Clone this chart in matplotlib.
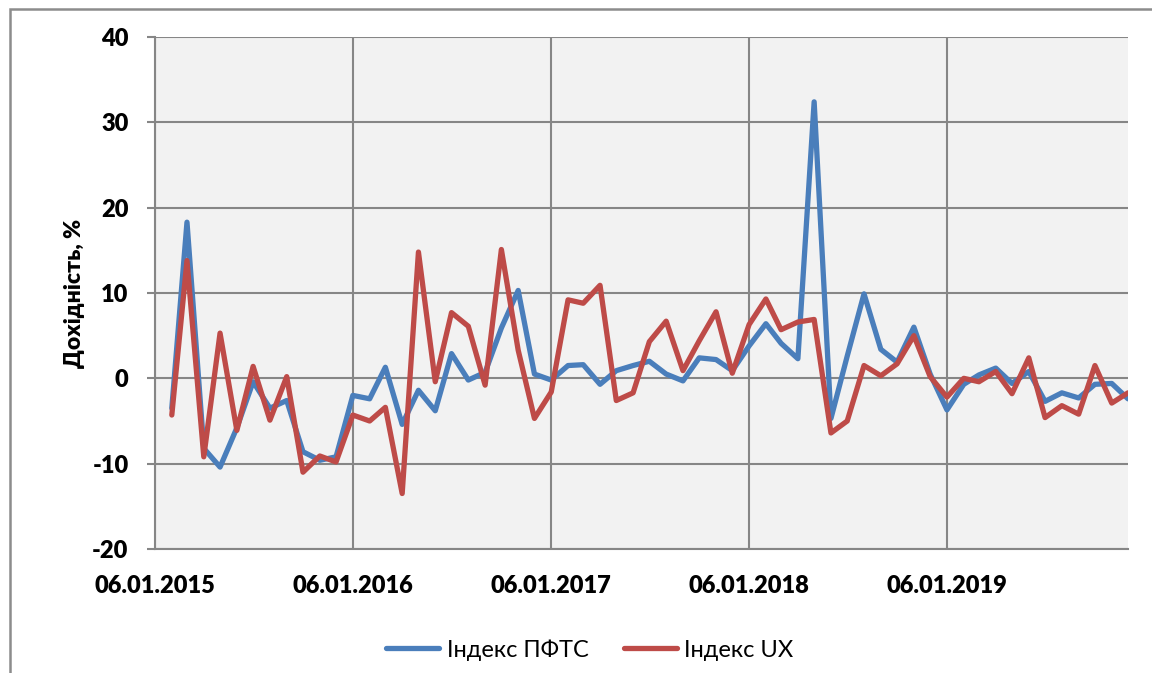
import matplotlib
matplotlib.use("Agg")
import matplotlib.pyplot as plt
import matplotlib.dates as mdates
import matplotlib.patches as patches
import pandas as pd

# monthly returns, Feb 2015 .. Dec 2019
months = pd.date_range("2015-02-01", periods=59, freq="MS") + pd.Timedelta(days=5)

pfts = [-3.5, 18.3, -8.2, -10.4, -5.8, -0.4, -3.5, -2.6, -8.6, -9.6, -9.2,
        -2.0, -2.4, 1.3, -5.4, -1.4, -3.8, 2.9, -0.2, 0.7, 5.9, 10.3, 0.5,
        -0.2, 1.5, 1.6, -0.7, 0.9, 1.5, 2.0, 0.5, -0.3, 2.4, 2.2, 0.9,
        3.8, 6.4, 4.1, 2.3, 32.4, -4.7, 2.6, 9.9, 3.4, 1.9, 6.0, 0.5,
        -3.7, -0.7, 0.4, 1.2, -0.6, 0.8, -2.7, -1.7, -2.3, -0.7, -0.6, -2.4]

ux = [-4.3, 13.8, -9.2, 5.3, -6.1, 1.4, -4.9, 0.2, -11.0, -9.1, -9.8,
      -4.3, -5.0, -3.4, -13.5, 14.8, -0.4, 7.7, 6.1, -0.8, 15.1, 3.3, -4.7,
      -1.6, 9.2, 8.8, 10.9, -2.6, -1.7, 4.3, 6.7, 0.9, 4.4, 7.8, 0.6,
      6.3, 9.3, 5.7, 6.6, 6.9, -6.4, -5.0, 1.5, 0.3, 1.7, 5.0, 0.2,
      -2.2, 0.0, -0.4, 0.8, -1.8, 2.4, -4.6, -3.2, -4.2, 1.5, -2.9, -1.7]

year_ticks = pd.to_datetime(["2015-01-06", "2016-01-06", "2017-01-06",
                             "2018-01-06", "2019-01-06"])
y_ticks = [-20, -10, 0, 10, 20, 30, 40]

BLUE = "#4A7EBB"
RED = "#BE4B48"
GRID = "#868686"
FONTS = ["Lato", "Open Sans", "DejaVu Sans"]


def main():
    plt.rcParams["font.family"] = FONTS
    plt.rcParams["axes.unicode_minus"] = False
    fig = plt.figure(figsize=(11.52, 6.73), dpi=100)
    ax = fig.add_axes([155 / 1152, 1 - 549 / 673, (1128 - 155) / 1152, 512 / 673])
    ax.set_facecolor("#F2F2F2")

    ax.plot(months, pfts, color=BLUE, lw=3.8, label="Індекс ПФТС",
            solid_joinstyle="round", solid_capstyle="round", zorder=3)
    ax.plot(months, ux, color=RED, lw=3.8, label="Індекс UX",
            solid_joinstyle="round", solid_capstyle="round", zorder=4)

    ax.set_ylim(-20, 40)
    ax.set_xlim(year_ticks[0], months[-1])
    ax.set_yticks(y_ticks)
    ax.set_xticks(year_ticks)
    ax.xaxis.set_major_formatter(mdates.DateFormatter("%d.%m.%Y"))

    ax.grid(True, color=GRID, lw=1.5, zorder=1)
    ax.set_axisbelow(True)
    for s in ["top", "right"]:
        ax.spines[s].set_visible(False)
    for s in ["left", "bottom"]:
        ax.spines[s].set_color(GRID)
        ax.spines[s].set_linewidth(1.5)

    ax.tick_params(axis="y", length=6, width=1.5, color=GRID, pad=13,
                   labelsize=17)
    ax.tick_params(axis="x", length=0, pad=19, labelsize=17)
    for lbl in ax.get_xticklabels() + ax.get_yticklabels():
        lbl.set_fontweight("heavy")

    ax.set_ylabel("Дохідність, %", fontsize=16.5, fontweight="heavy")
    ax.yaxis.set_label_coords(-0.072, 0.5)

    fig.legend(loc="center", bbox_to_anchor=(0.512, 1 - 650 / 673), ncol=2,
               frameon=False, fontsize=17, handlelength=2.25,
               handletextpad=0.3, columnspacing=1.5)

    # outer chart border (only left/top visible in the crop)
    border = patches.Rectangle((10 / 1152, -0.1), 1.2, 1 - 9 / 673 + 0.1,
                               transform=fig.transFigure, fill=False,
                               edgecolor="#8C8C8C", lw=1.8)
    fig.patches.append(border)

    fig.savefig("out.png", dpi=100)


if __name__ == "__main__":
    main()
